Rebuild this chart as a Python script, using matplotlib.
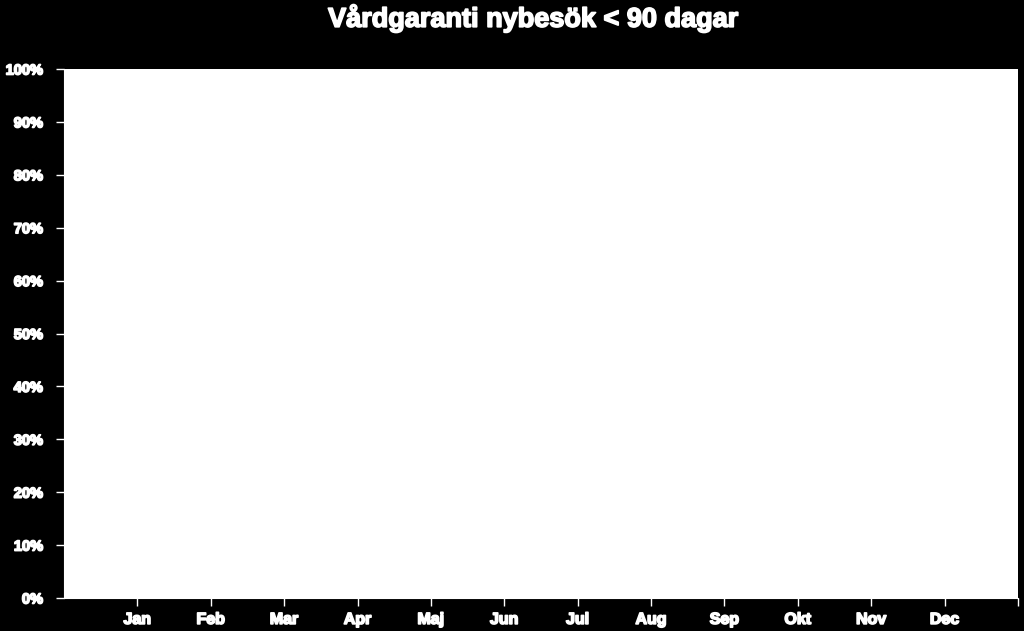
import matplotlib
matplotlib.use("Agg")
import matplotlib.pyplot as plt
import matplotlib.patheffects as pe
from matplotlib.ticker import FixedLocator

# Chart content (the chart has no plotted series).
TITLE = "Vårdgaranti nybesök < 90 dagar"
MONTHS = ["Jan", "Feb", "Mar", "Apr", "Maj", "Jun", "Jul", "Aug", "Sep", "Okt", "Nov", "Dec"]
Y_TICKS = [0, 10, 20, 30, 40, 50, 60, 70, 80, 90, 100]
Y_LABELS = [f"{v}%" for v in Y_TICKS]

plt.rcParams["font.family"] = ["Liberation Sans", "DejaVu Sans"]
outline = [pe.withStroke(linewidth=1.2, foreground="white")]

fig = plt.figure(figsize=(10.24, 6.31), dpi=100, facecolor="black")
ax = fig.add_axes([0.0625, 0.0523, 0.9316, 0.8383])
ax.set_facecolor("white")

n = len(MONTHS)
ax.set_xlim(0, n + 1)
ax.set_ylim(0, 100)

ax.set_yticks(Y_TICKS)
ax.set_yticklabels(Y_LABELS)
ax.set_xticks(range(1, n + 1))
ax.set_xticklabels(MONTHS)
ax.xaxis.set_minor_locator(FixedLocator([n + 1]))

for spine in ax.spines.values():
    spine.set_visible(False)
ax.spines["left"].set_visible(True)
ax.spines["bottom"].set_visible(True)
ax.spines["left"].set_color("white")
ax.spines["bottom"].set_color("white")

ax.tick_params(axis="y", colors="white", length=6, width=1, pad=9, labelsize=10.5)
ax.tick_params(axis="x", which="both", colors="white", length=6, width=1, pad=4, labelsize=11.5)

for label in ax.get_yticklabels() + ax.get_xticklabels():
    label.set_fontweight("bold")
    label.set_path_effects(outline)

fig.text(0.521, 0.971, TITLE, color="white", fontsize=19.5, fontweight="bold",
         ha="center", va="center", path_effects=outline)

fig.savefig("out.png", dpi=100, facecolor="black")
